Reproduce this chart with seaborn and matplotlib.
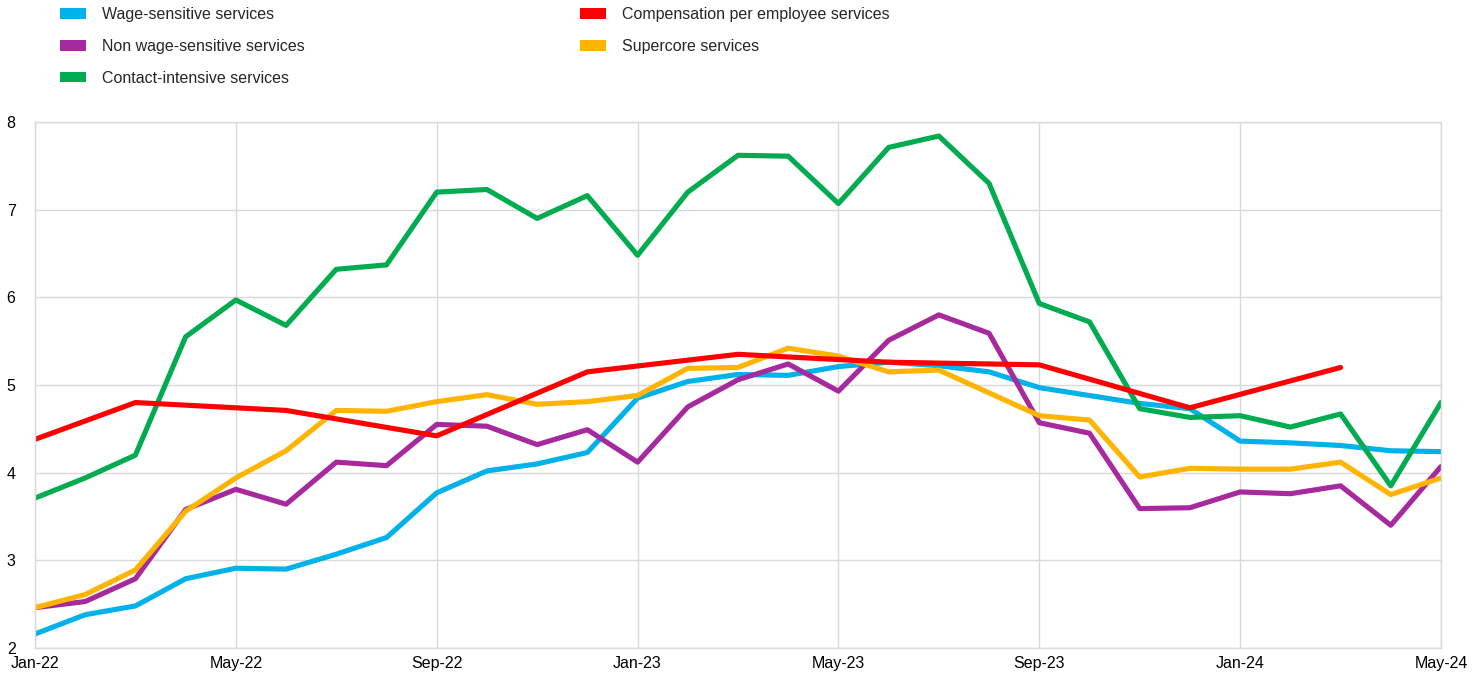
import matplotlib.pyplot as plt
import seaborn as sns
from matplotlib.patches import Patch

# monthly axis Jan-22 .. May-24
months = ["Jan-22", "Feb-22", "Mar-22", "Apr-22", "May-22", "Jun-22", "Jul-22", "Aug-22",
          "Sep-22", "Oct-22", "Nov-22", "Dec-22", "Jan-23", "Feb-23", "Mar-23", "Apr-23",
          "May-23", "Jun-23", "Jul-23", "Aug-23", "Sep-23", "Oct-23", "Nov-23", "Dec-23",
          "Jan-24", "Feb-24", "Mar-24", "Apr-24", "May-24"]

wage_sensitive = [2.16, 2.38, 2.48, 2.79, 2.91, 2.90, 3.07, 3.26, 3.77, 4.02, 4.10, 4.23,
                  4.85, 5.04, 5.12, 5.11, 5.21, 5.26, 5.22, 5.15, 4.97, 4.88, 4.79, 4.73,
                  4.36, 4.34, 4.31, 4.25, 4.24]
non_wage_sensitive = [2.46, 2.53, 2.79, 3.58, 3.81, 3.64, 4.12, 4.08, 4.55, 4.53, 4.32, 4.49,
                      4.12, 4.75, 5.06, 5.24, 4.93, 5.51, 5.80, 5.59, 4.57, 4.45, 3.59, 3.60,
                      3.78, 3.76, 3.85, 3.40, 4.07]
contact_intensive = [3.71, 3.94, 4.20, 5.55, 5.97, 5.68, 6.32, 6.37, 7.20, 7.23, 6.90, 7.16,
                     6.48, 7.20, 7.62, 7.61, 7.07, 7.71, 7.84, 7.30, 5.93, 5.72, 4.73, 4.63,
                     4.65, 4.52, 4.67, 3.85, 4.80]
supercore = [2.46, 2.61, 2.89, 3.56, 3.94, 4.25, 4.71, 4.70, 4.81, 4.89, 4.78, 4.81,
             4.88, 5.19, 5.20, 5.42, 5.33, 5.15, 5.17, 4.91, 4.65, 4.60, 3.95, 4.05,
             4.04, 4.04, 4.12, 3.75, 3.94]

# compensation per employee is only available at these months
comp_months = ["Jan-22", "Mar-22", "Jun-22", "Sep-22", "Dec-22", "Mar-23", "Jun-23",
               "Sep-23", "Dec-23", "Mar-24"]
comp_per_employee = [4.38, 4.80, 4.71, 4.42, 5.15, 5.35, 5.26, 5.23, 4.74, 5.20]

tick_labels = ["Jan-22", "May-22", "Sep-22", "Jan-23", "May-23", "Sep-23", "Jan-24", "May-24"]

colors = {
    "Wage-sensitive services": "#00B1EA",
    "Non wage-sensitive services": "#A6299D",
    "Contact-intensive services": "#00AC4F",
    "Compensation per employee services": "#FF0000",
    "Supercore services": "#FFB400",
}

sns.set_style("white")
plt.rcParams["font.family"] = ["Liberation Sans", "DejaVu Sans"]

fig = plt.figure(figsize=(14.76, 6.76), dpi=100)
ax = fig.add_axes([35 / 1476, 28 / 676, 1406 / 1476, 526 / 676])

x = list(range(len(months)))
comp_x = [months.index(m) for m in comp_months]
lw = 3.7

sns.lineplot(x=x, y=wage_sensitive, color=colors["Wage-sensitive services"], lw=lw, ax=ax)
sns.lineplot(x=x, y=non_wage_sensitive, color=colors["Non wage-sensitive services"], lw=lw, ax=ax)
sns.lineplot(x=x, y=contact_intensive, color=colors["Contact-intensive services"], lw=lw, ax=ax)
sns.lineplot(x=x, y=supercore, color=colors["Supercore services"], lw=lw, ax=ax)
sns.lineplot(x=comp_x, y=comp_per_employee, color=colors["Compensation per employee services"],
             lw=lw, ax=ax)

ax.set_xlim(0, len(months) - 1)
ax.set_ylim(2, 8)
ax.set_xticks([months.index(t) for t in tick_labels])
ax.set_xticklabels(tick_labels)
ax.set_yticks(range(2, 9))
ax.tick_params(axis="both", length=0, labelsize=11.5, colors="#000000")
ax.tick_params(axis="x", pad=6)
ax.tick_params(axis="y", pad=14)
ax.grid(True, color="#d9d9d9", lw=1)
for s in ax.spines.values():
    s.set_color("#d9d9d9")
    s.set_linewidth(1)
ax.set_xlabel("")
ax.set_ylabel("")

# legend in two blocks at the top
left_items = ["Wage-sensitive services", "Non wage-sensitive services", "Contact-intensive services"]
right_items = ["Compensation per employee services", "Supercore services"]
for items, x0 in [(left_items, 57 / 1476), (right_items, 577 / 1476)]:
    handles = [Patch(facecolor=colors[k], edgecolor="none", label=k) for k in items]
    fig.legend(handles=handles, loc="upper left", bbox_to_anchor=(x0, 1 - 4 / 676),
               frameon=False, fontsize=11.5, handlelength=1.6, handleheight=0.65,
               handletextpad=1.0, labelspacing=1.05, borderpad=0.2, borderaxespad=0)

fig.savefig("out.png", dpi=100)
